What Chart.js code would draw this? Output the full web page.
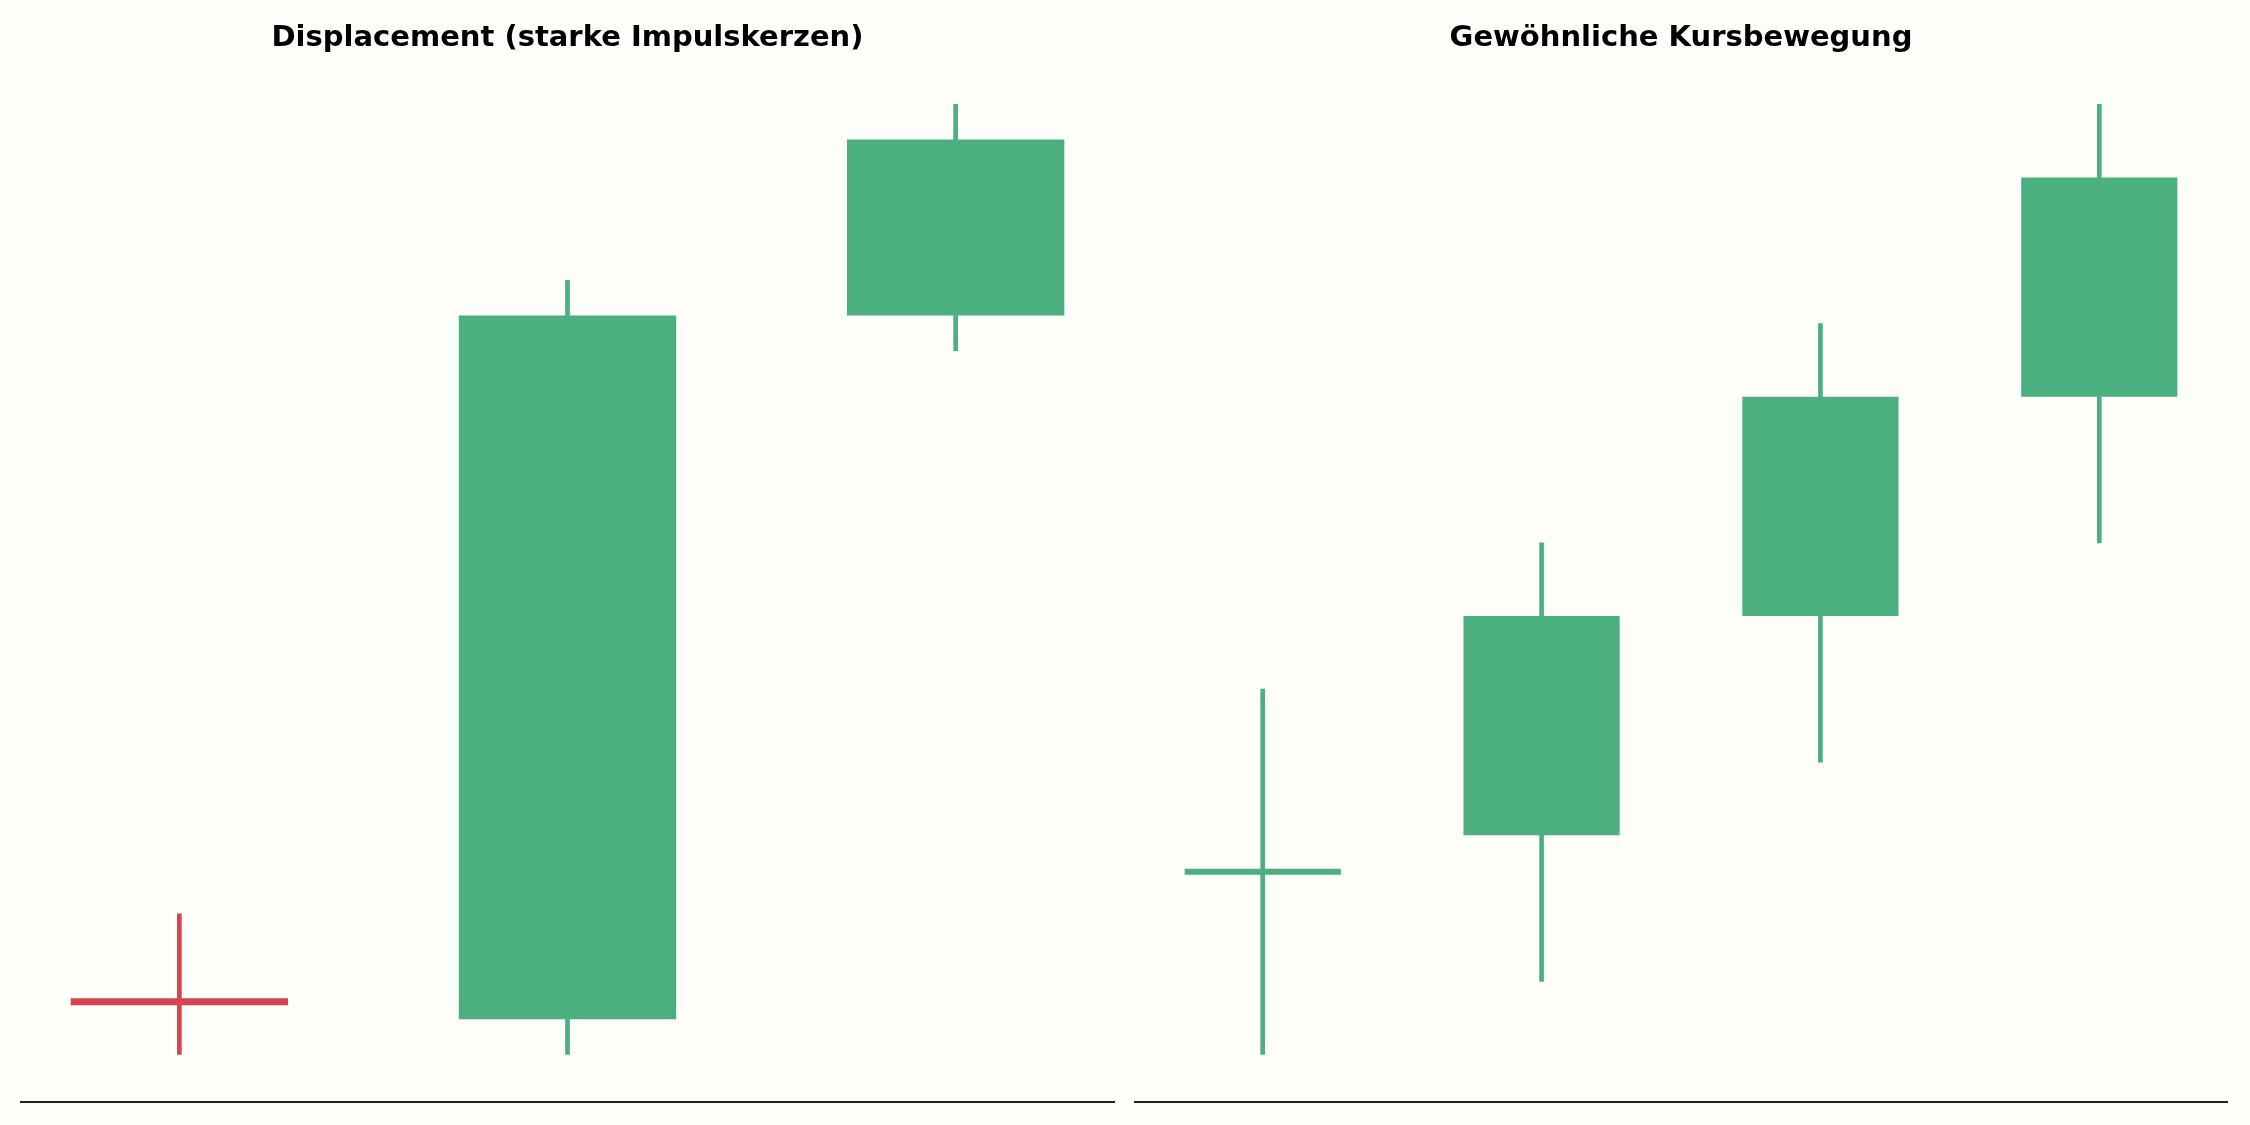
<!DOCTYPE html>
<html>
<head>
<meta charset="utf-8">
<script src="https://cdn.jsdelivr.net/npm/chart.js@4.4.0/dist/chart.umd.min.js"></script>
<style>
  html, body { margin: 0; padding: 0; background: #fdfdfa; }
  .wrap { display: flex; width: 2250px; height: 1125px; }
  .panel { position: relative; width: 1125px; height: 1125px; }
</style>
</head>
<body>
<div class="wrap">
  <div class="panel"><canvas id="leftChart"></canvas></div>
  <div class="panel"><canvas id="rightChart"></canvas></div>
</div>
<script>
// Displacement: doji, one huge impulse candle, one follow-up
const leftOpen = [100.8, 100.5, 110.5];
const leftClose = [100.7, 110.5, 113];
const leftHigh = [102, 111, 113.5];
const leftLow = [100, 100, 110];

// normal price movement: doji then three even steps up
const rightOpen = [102.5, 103, 106, 109];
const rightClose = [102.5, 106, 109, 112];
const rightHigh = [105, 107, 110, 113];
const rightLow = [100, 101, 104, 107];

const upColor = "#4caf7f";
const downColor = "#d9434f";

// doji bodies are too thin to see, draw them as a thick line
const dojiLine = {
  id: "dojiLine",
  afterDatasetsDraw(chart) {
    const ctx = chart.ctx;
    chart.getDatasetMeta(0).data.forEach((bar) => {
      const h = Math.abs(bar.base - bar.y);
      if (h >= 6) return;
      const mid = (bar.base + bar.y) / 2;
      ctx.save();
      ctx.fillStyle = bar.options.backgroundColor;
      ctx.fillRect(bar.x - bar.width / 2, mid - 3, bar.width, 6);
      ctx.restore();
    });
  },
};

function makeChart(id, title, open, close, high, low, pad) {
  const colors = open.map((o, i) => (close[i] >= o ? upColor : downColor));
  const n = open.length;
  const xPad = 0.28 + 0.05 * (n - 1 + 0.56);
  const lo = Math.min(...low);
  const hi = Math.max(...high);
  const yPad = (hi - lo) * 0.05;

  return new Chart(document.getElementById(id).getContext("2d"), {
    type: "bar",
    data: {
      datasets: [
        {
          label: "body",
          data: open.map((o, i) => ({ x: i, y: [o, close[i]] })),
          backgroundColor: colors,
          borderWidth: 0,
          grouped: false,
          barPercentage: 0.56,
          categoryPercentage: 1,
        },
        {
          label: "wick",
          data: low.map((l, i) => ({ x: i, y: [l, high[i]] })),
          backgroundColor: colors,
          borderWidth: 0,
          grouped: false,
          barThickness: 4,
        },
      ],
    },
    options: {
      responsive: true,
      maintainAspectRatio: false,
      animation: false,
      layout: { padding: pad },
      plugins: {
        legend: { display: false },
        tooltip: { enabled: false },
        title: {
          display: true,
          text: title,
          color: "#000",
          font: { family: "DejaVu Sans", size: 29, weight: "bold" },
          padding: { top: 21, bottom: 1 },
        },
      },
      scales: {
        x: {
          type: "linear",
          offset: false,
          min: -xPad,
          max: n - 1 + xPad,
          // one tick per candle so the bar width follows the candle spacing
          afterBuildTicks: (axis) => {
            axis.ticks = open.map((o, i) => ({ value: i }));
          },
          grid: { display: false, drawTicks: false },
          ticks: { display: false },
          border: { display: true, color: "#222", width: 2 },
        },
        y: {
          display: false,
          min: lo - yPad,
          max: hi + yPad,
        },
      },
    },
    plugins: [dojiLine],
  });
}

makeChart("leftChart", "Displacement (starke Impulskerzen)",
  leftOpen, leftClose, leftHigh, leftLow,
  { left: 21, right: 11, top: 0, bottom: 23 });

makeChart("rightChart", "Gewöhnliche Kursbewegung",
  rightOpen, rightClose, rightHigh, rightLow,
  { left: 10, right: 23, top: 0, bottom: 23 });
</script>
</body>
</html>
